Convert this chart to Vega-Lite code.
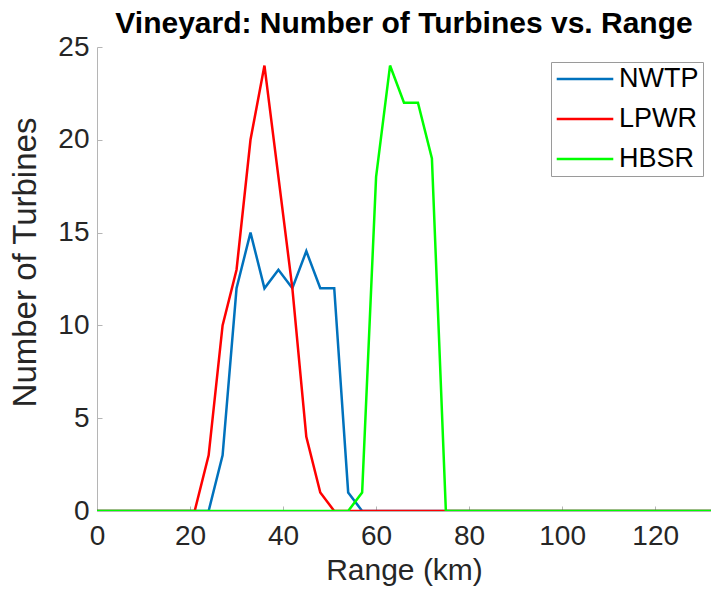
{
  "$schema": "https://vega.github.io/schema/vega-lite/v6.json",
  "autosize": {"type": "none"},
  "width": 614,
  "height": 464,
  "padding": {"left": 97, "top": 47, "right": 0, "bottom": 92},
  "background": "white",
  "title": {"text": "Vineyard: Number of Turbines vs. Range", "font": "Liberation Sans", "fontSize": 30, "fontWeight": "bold", "color": "#000000", "anchor": "middle", "offset": -6},
  "data": {"values": [
    {"range":0,"n":0,"site":"NWTP"},{"range":3,"n":0,"site":"NWTP"},{"range":6,"n":0,"site":"NWTP"},{"range":9,"n":0,"site":"NWTP"},{"range":12,"n":0,"site":"NWTP"},{"range":15,"n":0,"site":"NWTP"},{"range":18,"n":0,"site":"NWTP"},{"range":21,"n":0,"site":"NWTP"},{"range":24,"n":0,"site":"NWTP"},{"range":27,"n":3,"site":"NWTP"},{"range":30,"n":12,"site":"NWTP"},{"range":33,"n":15,"site":"NWTP"},{"range":36,"n":12,"site":"NWTP"},{"range":39,"n":13,"site":"NWTP"},{"range":42,"n":12,"site":"NWTP"},{"range":45,"n":14,"site":"NWTP"},{"range":48,"n":12,"site":"NWTP"},{"range":51,"n":12,"site":"NWTP"},{"range":54,"n":1,"site":"NWTP"},{"range":57,"n":0,"site":"NWTP"},{"range":60,"n":0,"site":"NWTP"},{"range":63,"n":0,"site":"NWTP"},{"range":66,"n":0,"site":"NWTP"},{"range":69,"n":0,"site":"NWTP"},{"range":72,"n":0,"site":"NWTP"},{"range":75,"n":0,"site":"NWTP"},{"range":78,"n":0,"site":"NWTP"},{"range":81,"n":0,"site":"NWTP"},{"range":84,"n":0,"site":"NWTP"},{"range":87,"n":0,"site":"NWTP"},{"range":90,"n":0,"site":"NWTP"},{"range":93,"n":0,"site":"NWTP"},{"range":96,"n":0,"site":"NWTP"},{"range":99,"n":0,"site":"NWTP"},{"range":102,"n":0,"site":"NWTP"},{"range":105,"n":0,"site":"NWTP"},{"range":108,"n":0,"site":"NWTP"},{"range":111,"n":0,"site":"NWTP"},{"range":114,"n":0,"site":"NWTP"},{"range":117,"n":0,"site":"NWTP"},{"range":120,"n":0,"site":"NWTP"},{"range":123,"n":0,"site":"NWTP"},{"range":126,"n":0,"site":"NWTP"},{"range":129,"n":0,"site":"NWTP"},{"range":132,"n":0,"site":"NWTP"},
    {"range":0,"n":0,"site":"LPWR"},{"range":3,"n":0,"site":"LPWR"},{"range":6,"n":0,"site":"LPWR"},{"range":9,"n":0,"site":"LPWR"},{"range":12,"n":0,"site":"LPWR"},{"range":15,"n":0,"site":"LPWR"},{"range":18,"n":0,"site":"LPWR"},{"range":21,"n":0,"site":"LPWR"},{"range":24,"n":3,"site":"LPWR"},{"range":27,"n":10,"site":"LPWR"},{"range":30,"n":13,"site":"LPWR"},{"range":33,"n":20,"site":"LPWR"},{"range":36,"n":24,"site":"LPWR"},{"range":39,"n":18,"site":"LPWR"},{"range":42,"n":12,"site":"LPWR"},{"range":45,"n":4,"site":"LPWR"},{"range":48,"n":1,"site":"LPWR"},{"range":51,"n":0,"site":"LPWR"},{"range":54,"n":0,"site":"LPWR"},{"range":57,"n":0,"site":"LPWR"},{"range":60,"n":0,"site":"LPWR"},{"range":63,"n":0,"site":"LPWR"},{"range":66,"n":0,"site":"LPWR"},{"range":69,"n":0,"site":"LPWR"},{"range":72,"n":0,"site":"LPWR"},{"range":75,"n":0,"site":"LPWR"},{"range":78,"n":0,"site":"LPWR"},{"range":81,"n":0,"site":"LPWR"},{"range":84,"n":0,"site":"LPWR"},{"range":87,"n":0,"site":"LPWR"},{"range":90,"n":0,"site":"LPWR"},{"range":93,"n":0,"site":"LPWR"},{"range":96,"n":0,"site":"LPWR"},{"range":99,"n":0,"site":"LPWR"},{"range":102,"n":0,"site":"LPWR"},{"range":105,"n":0,"site":"LPWR"},{"range":108,"n":0,"site":"LPWR"},{"range":111,"n":0,"site":"LPWR"},{"range":114,"n":0,"site":"LPWR"},{"range":117,"n":0,"site":"LPWR"},{"range":120,"n":0,"site":"LPWR"},{"range":123,"n":0,"site":"LPWR"},{"range":126,"n":0,"site":"LPWR"},{"range":129,"n":0,"site":"LPWR"},{"range":132,"n":0,"site":"LPWR"},
    {"range":0,"n":0,"site":"HBSR"},{"range":3,"n":0,"site":"HBSR"},{"range":6,"n":0,"site":"HBSR"},{"range":9,"n":0,"site":"HBSR"},{"range":12,"n":0,"site":"HBSR"},{"range":15,"n":0,"site":"HBSR"},{"range":18,"n":0,"site":"HBSR"},{"range":21,"n":0,"site":"HBSR"},{"range":24,"n":0,"site":"HBSR"},{"range":27,"n":0,"site":"HBSR"},{"range":30,"n":0,"site":"HBSR"},{"range":33,"n":0,"site":"HBSR"},{"range":36,"n":0,"site":"HBSR"},{"range":39,"n":0,"site":"HBSR"},{"range":42,"n":0,"site":"HBSR"},{"range":45,"n":0,"site":"HBSR"},{"range":48,"n":0,"site":"HBSR"},{"range":51,"n":0,"site":"HBSR"},{"range":54,"n":0,"site":"HBSR"},{"range":57,"n":1,"site":"HBSR"},{"range":60,"n":18,"site":"HBSR"},{"range":63,"n":24,"site":"HBSR"},{"range":66,"n":22,"site":"HBSR"},{"range":69,"n":22,"site":"HBSR"},{"range":72,"n":19,"site":"HBSR"},{"range":75,"n":0,"site":"HBSR"},{"range":78,"n":0,"site":"HBSR"},{"range":81,"n":0,"site":"HBSR"},{"range":84,"n":0,"site":"HBSR"},{"range":87,"n":0,"site":"HBSR"},{"range":90,"n":0,"site":"HBSR"},{"range":93,"n":0,"site":"HBSR"},{"range":96,"n":0,"site":"HBSR"},{"range":99,"n":0,"site":"HBSR"},{"range":102,"n":0,"site":"HBSR"},{"range":105,"n":0,"site":"HBSR"},{"range":108,"n":0,"site":"HBSR"},{"range":111,"n":0,"site":"HBSR"},{"range":114,"n":0,"site":"HBSR"},{"range":117,"n":0,"site":"HBSR"},{"range":120,"n":0,"site":"HBSR"},{"range":123,"n":0,"site":"HBSR"},{"range":126,"n":0,"site":"HBSR"},{"range":129,"n":0,"site":"HBSR"},{"range":132,"n":0,"site":"HBSR"}
  ]},
  "encoding": {
    "x": {"field": "range", "type": "quantitative", "scale": {"domain": [0, 132], "nice": false, "zero": false},
      "axis": {"title": "Range (km)", "values": [0, 20, 40, 60, 80, 100, 120], "grid": false, "tickSize": -5, "labelFlush": false, "labelPadding": 16, "titlePadding": 5}},
    "y": {"field": "n", "type": "quantitative", "scale": {"domain": [0, 25], "nice": false},
      "axis": {"title": "Number of Turbines", "values": [0, 5, 10, 15, 20, 25], "grid": false, "tickSize": -5, "labelFlush": false, "labelPadding": 13, "titleFontSize": 33, "titleY": 215, "titlePadding": 15}},
    "color": {"field": "site", "type": "nominal", "scale": {"domain": ["NWTP", "LPWR", "HBSR"], "range": ["#0072BD", "#FF0000", "#00FF00"]},
      "legend": {"title": null, "orient": "none", "legendX": 454, "legendY": 15, "symbolType": "stroke", "symbolSize": 3200, "symbolStrokeWidth": 2.5, "labelFontSize": 27, "labelColor": "#000000", "labelFont": "Liberation Sans", "strokeColor": "#9a9a9a", "fillColor": "#ffffff", "padding": 4, "clipHeight": 26, "rowPadding": 13, "labelOffset": 4}}
  },
  "layer": [
    {"transform": [{"filter": "datum.site === 'NWTP'"}], "mark": {"type": "line", "strokeWidth": 2.5, "clip": true}},
    {"transform": [{"filter": "datum.site === 'LPWR'"}], "mark": {"type": "line", "strokeWidth": 2.5, "clip": true}},
    {"transform": [{"filter": "datum.site === 'HBSR'"}], "mark": {"type": "line", "strokeWidth": 2.5, "clip": true}}
  ],
  "config": {
    "view": {"stroke": null},
    "font": "Liberation Sans",
    "axis": {"domainColor": "#b5b5b5", "tickColor": "#b5b5b5", "domainWidth": 1, "tickWidth": 1, "labelFont": "Liberation Sans", "labelFontSize": 28, "labelColor": "#262626", "titleFont": "Liberation Sans", "titleFontSize": 30, "titleFontWeight": "normal", "titleColor": "#262626"}
  }
}
